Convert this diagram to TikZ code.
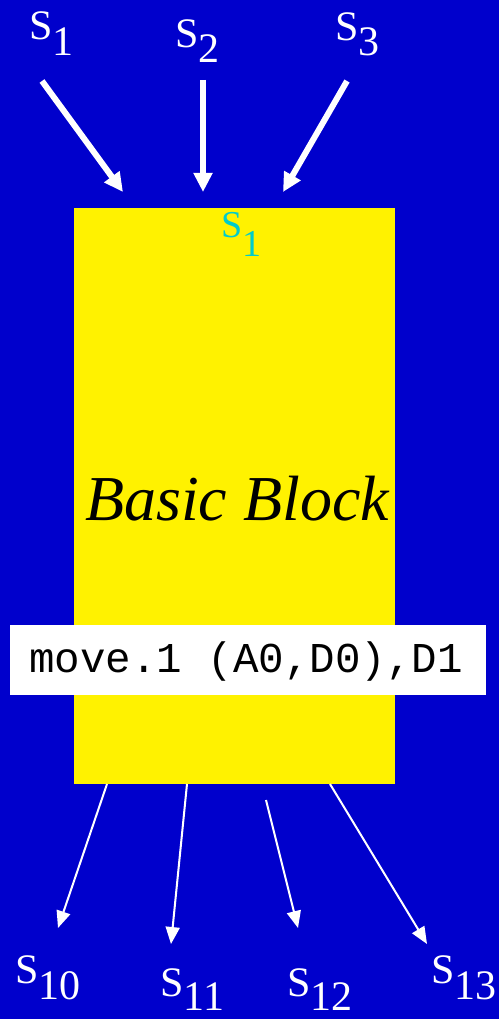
\documentclass[tikz,border=0pt]{standalone}
\usepackage{fontspec}
\setmainfont{Liberation Serif}
\setmonofont{Liberation Mono}
\usetikzlibrary{arrows.meta}
\definecolor{bgblue}{HTML}{0000CC}
\definecolor{cyantext}{HTML}{00CCCC}
\tikzset{
  lab/.style={text=white, inner sep=0pt, anchor=base west, font=\fontsize{42}{42}\selectfont},
  thickarrow/.style={draw=white, line width=6pt, -{Triangle[length=19pt,width=18pt]}},
  thinarrow/.style={draw=white, line width=2pt, -{Triangle[length=17pt,width=14pt]}},
}
\newcommand{\lbl}[2]{S\raisebox{-#2pt}{#1}}
\begin{document}
\begin{tikzpicture}[x=1pt,y=-1pt]
\fill[bgblue] (0,0) rectangle (499,1019);
\useasboundingbox (0,0) rectangle (499,1019);
% block
\node[fill=yellow, inner sep=0pt, minimum width=321pt, minimum height=576pt] (block) at (234.5,496) {};
\node[inner sep=0pt, anchor=base, font=\fontsize{64}{64}\selectfont\itshape] (bbtext) at (237,520) {Basic Block};
\node[text=cyantext, inner sep=0pt, anchor=base west, font=\fontsize{38}{38}\selectfont] (cs1) at (221,237) {\lbl{1}{19}};
% instruction box
\node[fill=white, inner sep=0pt, minimum width=476pt, minimum height=70pt] (instr) at (248,660) {};
\node[inner sep=0pt, anchor=base west, font=\fontsize{42.5}{42.5}\selectfont\ttfamily] (instrtext) at (29,672) {move.1 (A0,D0),D1};
% top labels
\node[lab] (s1) at (29,40) {\lbl{1}{16}};
\node[lab] (s2) at (175,48) {\lbl{2}{15}};
\node[lab] (s3) at (335,41) {\lbl{3}{15}};
% bottom labels
\node[lab] (s10) at (15,983) {\lbl{10}{16}};
\node[lab] (s11) at (160,996) {\lbl{11}{14}};
\node[lab] (s12) at (287,996) {\lbl{12}{14}};
\node[lab] (s13) at (431,983) {\lbl{13}{16}};
% arrow end points
\coordinate (t1s) at (42,81);
\coordinate (t1e) at (123,192);
\coordinate (t2s) at (203,80);
\coordinate (t2e) at (203,192);
\coordinate (t3s) at (347,81);
\coordinate (t3e) at (283,192);
\coordinate (b1s) at (107,784);
\coordinate (b1e) at (58,928);
\coordinate (b2s) at (187,784);
\coordinate (b2e) at (171,944);
\coordinate (b3s) at (266,800);
\coordinate (b3e) at (298,928);
\coordinate (b4s) at (330,784);
\coordinate (b4e) at (427,944);
\draw[thickarrow] (t1s) -- (t1e);
\draw[thickarrow] (t2s) -- (t2e);
\draw[thickarrow] (t3s) -- (t3e);
\draw[thinarrow] (b1s) -- (b1e);
\draw[thinarrow] (b2s) -- (b2e);
\draw[thinarrow] (b3s) -- (b3e);
\draw[thinarrow] (b4s) -- (b4e);
\end{tikzpicture}
\end{document}
